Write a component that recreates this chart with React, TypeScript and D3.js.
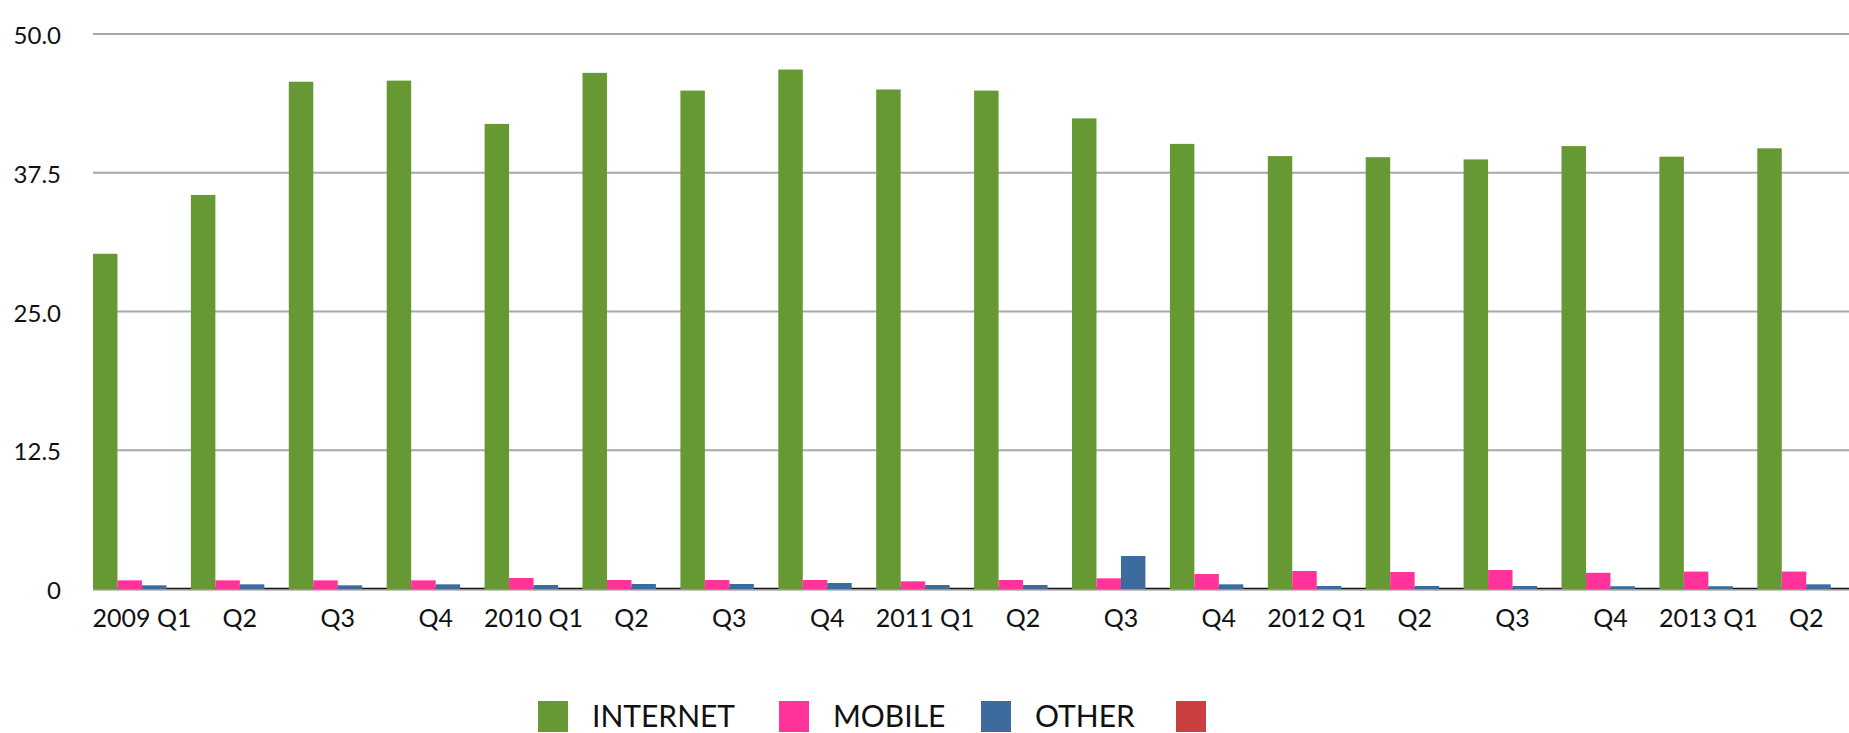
import React from "react";
import * as d3 from "d3";

const categories = ["2009 Q1","Q2","Q3","Q4","2010 Q1","Q2","Q3","Q4","2011 Q1","Q2","Q3","Q4","2012 Q1","Q2","Q3","Q4","2013 Q1","Q2"];
const internet = [30.2, 35.5, 45.7, 45.8, 41.9, 46.5, 44.9, 46.8, 45.0, 44.9, 42.4, 40.1, 39.0, 38.9, 38.7, 39.9, 38.95, 39.7];
const mobile = [0.78, 0.78, 0.78, 0.78, 0.99, 0.81, 0.81, 0.81, 0.69, 0.81, 0.96, 1.35, 1.62, 1.53, 1.71, 1.46, 1.57, 1.57];
const other = [0.33, 0.42, 0.33, 0.42, 0.36, 0.45, 0.45, 0.54, 0.36, 0.36, 2.97, 0.42, 0.27, 0.27, 0.27, 0.25, 0.25, 0.42];
const red = [0, 0, 0, 0, 0, 0, 0, 0, 0, 0, 0, 0, 0, 0, 0, 0, 0, 0];
const seriesNames = ["INTERNET", "MOBILE", "OTHER", ""];
const seriesColors = ["#669933", "#ff3399", "#3d6b9e", "#cc3f3f"];
const yTicks = [0, 12.5, 25, 37.5, 50];
const yTickLabels = ["0", "12.5", "25.0", "37.5", "50.0"];

const W = 1849, H = 733;
const FONT = "Lato, 'Open Sans', sans-serif";

export default function App() {
  const series = [internet, mobile, other, red];
  const idx = categories.map((_, i) => String(i));
  const x = d3.scaleBand().domain(idx).range([93, 93 + 18 * 97.9]).padding(0);
  const xs = d3.scaleBand().domain(["0", "1", "2", "3"]).range([0, x.bandwidth()]).padding(0);
  const y = d3.scaleLinear().domain([0, 50]).range([589, 34]);

  const legendX = [538, 779, 981, 1176];

  return (
    <svg width={W} height={H} style={{ position: "absolute", left: 0, top: 0, background: "#fff" }}>
      {yTicks.map((t, i) => (
        <g key={"g" + i}>
          {i > 0 && (
            <line x1={93} x2={W} y1={y(t)} y2={y(t)} stroke="#a8a8a8" strokeWidth={2.2} />
          )}
          <text x={61} y={y(t) + 10} textAnchor="end" fontFamily={FONT} fontSize={24} fill="#111">
            {yTickLabels[i]}
          </text>
        </g>
      ))}
      <line x1={93} x2={W} y1={590} y2={590} stroke="#888" strokeWidth={1} />
      <line x1={93} x2={W} y1={588.5} y2={588.5} stroke="#111" strokeWidth={1.5} />
      {series.map((s, si) =>
        s.map((v, i) =>
          v > 0 ? (
            <rect
              key={si + "-" + i}
              x={(x(String(i)) as number) + (xs(String(si)) as number)}
              y={y(v)}
              width={xs.bandwidth()}
              height={y(0) - y(v)}
              fill={seriesColors[si]}
            />
          ) : null
        )
      )}
      {categories.map((c, i) => (
        <text
          key={"x" + i}
          x={(x(String(i)) as number) + x.bandwidth() / 2}
          y={627}
          textAnchor="middle"
          fontFamily={FONT}
          fontSize={25}
          fill="#111"
        >
          {c}
        </text>
      ))}
      {seriesNames.map((n, i) => (
        <g key={"l" + i}>
          <rect x={legendX[i]} y={701} width={30} height={31} fill={seriesColors[i]} />
          {n && (
            <text x={legendX[i] + 54} y={727} fontFamily={FONT} fontSize={30} fill="#111">
              {n}
            </text>
          )}
        </g>
      ))}
    </svg>
  );
}
